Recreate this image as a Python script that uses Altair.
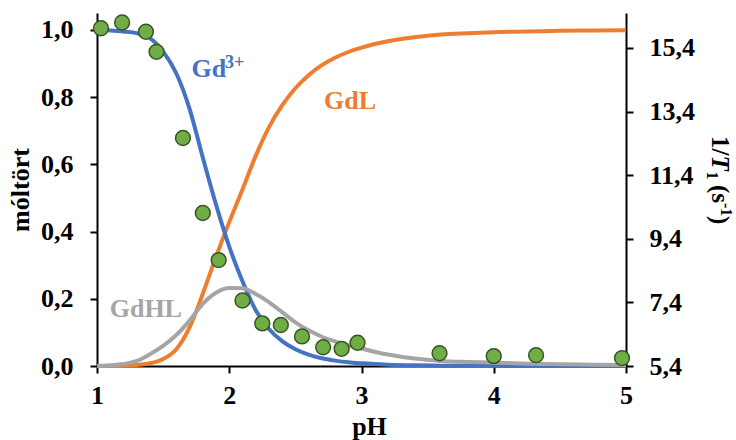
import altair as alt
import pandas as pd

# ---- data ----
ph_grid = [1.0, 1.1, 1.2, 1.3, 1.4, 1.5, 1.6, 1.7, 1.8, 1.9, 2.0, 2.1, 2.2, 2.3, 2.4,
           2.5, 2.6, 2.7, 2.8, 2.9, 3.0, 3.2, 3.4, 3.6, 3.8, 4.0, 4.25, 4.5, 4.75, 5.0]
gd3 = [1.000, 0.998, 0.995, 0.990, 0.975, 0.935, 0.870, 0.765, 0.620, 0.480, 0.355, 0.252,
       0.166, 0.110, 0.074, 0.050, 0.034, 0.023, 0.016, 0.011, 0.008, 0.004, 0.002, 0.001,
       0.0006, 0.0004, 0.0002, 0.0001, 0.0, 0.0]
gdl = [0.000, 0.000, 0.001, 0.003, 0.008, 0.021, 0.050, 0.115, 0.215, 0.325, 0.428, 0.525,
       0.625, 0.710, 0.775, 0.826, 0.865, 0.895, 0.917, 0.934, 0.947, 0.966, 0.978, 0.986,
       0.990, 0.993, 0.995, 0.997, 0.998, 0.999]
gdhl = [0.000, 0.002, 0.006, 0.015, 0.035, 0.060, 0.092, 0.135, 0.185, 0.218, 0.232, 0.231,
        0.214, 0.190, 0.160, 0.130, 0.106, 0.087, 0.073, 0.062, 0.052, 0.034, 0.022, 0.015,
        0.012, 0.010, 0.007, 0.005, 0.004, 0.003]

ph_pts = [1.03, 1.19, 1.37, 1.45, 1.65, 1.80, 1.92, 2.10, 2.25, 2.39, 2.55, 2.71, 2.85,
          2.97, 3.59, 4.00, 4.32, 4.97]
r1_pts = [16.02, 16.20, 15.91, 15.28, 12.57, 10.21, 8.73, 7.46, 6.74, 6.69, 6.33, 5.99,
          5.94, 6.13, 5.80, 5.71, 5.74, 5.65]

x_ticks = [1, 2, 3, 4, 5]
left_ticks = [0.0, 0.2, 0.4, 0.6, 0.8, 1.0]
right_ticks = [5.4, 7.4, 9.4, 11.4, 13.4, 15.4]

FONT = "Liberation Serif"
BLUE = "#4472C4"
ORANGE = "#ED7D31"
GRAY = "#A5A5A5"
GREEN = "#70AD47"
DKGREEN = "#375623"
TICKFS = 26
TITLEFS = 26

curves = pd.DataFrame({"pH": ph_grid, "gd3": gd3, "gdl": gdl, "gdhl": gdhl})
pts = pd.DataFrame({"pH": ph_pts, "r1": r1_pts})
one = pd.DataFrame({"a": [0]})

xscale = alt.Scale(domain=[1, 5], nice=False, zero=False)
ylscale = alt.Scale(domain=[0, 1.05], nice=False, zero=False)
yrscale = alt.Scale(domain=[5.4, 16.5], nice=False, zero=False)

comma = "replace(format(datum.value, '.1f'), '.', ',')"

xaxis = alt.Axis(values=x_ticks, format="d", title="pH", grid=False,
                 tickSize=7, tickWidth=2, tickColor="black",
                 domainWidth=2, domainColor="black",
                 labelFont=FONT, labelFontSize=TICKFS, labelFontWeight="bold",
                 labelColor="black", labelPadding=9, labelFlush=False, labelOverlap=False,
                 titleFont=FONT, titleFontSize=TITLEFS, titleFontWeight="bold",
                 titleColor="black", titleX=272, titleY=68, titleBaseline="alphabetic",
                 titleAlign="center")

ylaxis = alt.Axis(values=left_ticks, labelExpr=comma, title="móltört", grid=False,
                  tickSize=7, tickWidth=2, tickColor="black",
                  domainWidth=2, domainColor="black",
                  labelFont=FONT, labelFontSize=TICKFS, labelFontWeight="bold",
                  labelColor="black", labelPadding=17, labelOverlap=False,
                  titleFont=FONT, titleFontSize=TITLEFS, titleFontWeight="bold",
                  titleColor="black", titleAngle=-90, titleX=-69, titleY=176.5,
                  titleBaseline="alphabetic", titleAlign="center")

yraxis = alt.Axis(orient="right", values=right_ticks, labelExpr=comma, title=None,
                  grid=False, tickSize=7, tickWidth=2, tickColor="black",
                  domainWidth=2, domainColor="black",
                  labelFont=FONT, labelFontSize=TICKFS, labelFontWeight="bold",
                  labelColor="black", labelPadding=16, labelOverlap=False)

X = alt.X("pH:Q", scale=xscale, axis=xaxis)

base = alt.Chart(curves)
line_gdl = base.mark_line(color=ORANGE, strokeWidth=4, interpolate="monotone").encode(
    x=X, y=alt.Y("gdl:Q", scale=ylscale, axis=ylaxis))
line_gd3 = base.mark_line(color=BLUE, strokeWidth=4, interpolate="monotone").encode(
    x=X, y=alt.Y("gd3:Q", scale=ylscale, axis=ylaxis))
line_gdhl = base.mark_line(color=GRAY, strokeWidth=4, interpolate="monotone").encode(
    x=X, y=alt.Y("gdhl:Q", scale=ylscale, axis=ylaxis))


def label(text, px, py, color, size, dy=0):
    return alt.Chart(one).mark_text(
        text=text, font=FONT, fontSize=size, fontWeight="bold", color=color,
        align="left", baseline="alphabetic", dy=dy
    ).encode(x=alt.datum(px), y=alt.datum(py))


lab_gd = label("Gd", 1.715, 0.86, BLUE, 26)
lab_gd_sup = label("3+", 1.968, 0.86, BLUE, 18, dy=-9)
lab_gdl = label("GdL", 2.717, 0.764, ORANGE, 26)
lab_gdhl = label("GdHL", 1.096, 0.147, GRAY, 26)


def rtitle(text, ystart, xbase, size, style="normal"):
    return alt.Chart(one).mark_text(
        text=text, font=FONT, fontSize=size, fontWeight="bold", fontStyle=style,
        color="black", angle=90, align="left", baseline="alphabetic"
    ).encode(x=alt.value(xbase), y=alt.value(ystart))


RT = 25
rt_parts = [
    rtitle("1/", 123, 615, RT),
    rtitle("T", 142.5, 615, RT, "italic"),
    rtitle("1", 158.5, 610, 16),
    rtitle("(s", 172, 615, RT),
    rtitle("-1", 190, 624, 16),
    rtitle(")", 203, 615, RT),
]

left = alt.layer(line_gdl, line_gd3, line_gdhl, lab_gd, lab_gd_sup, lab_gdl, lab_gdhl,
                 *rt_parts)

points = alt.Chart(pts).mark_circle(
    size=220, fill=GREEN, stroke=DKGREEN, strokeWidth=1.5, opacity=1
).encode(x=X, y=alt.Y("r1:Q", scale=yrscale, axis=yraxis))

chart = alt.layer(left, points).resolve_scale(y="independent").properties(
    width=529, height=353,
    autosize=alt.AutoSizeParams(type="none"),
    padding={"left": 97, "top": 13, "right": 110, "bottom": 74},
    background="white",
).configure_view(stroke=None)

chart.save("out.html", embed_options={"renderer": "svg", "actions": False})
